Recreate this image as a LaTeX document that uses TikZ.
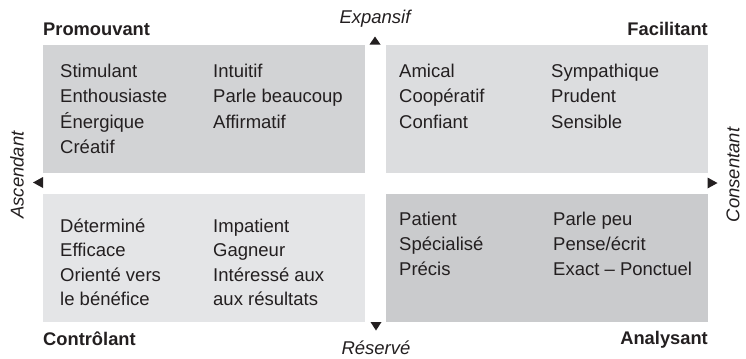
\documentclass[tikz,border=0pt]{standalone}
\usepackage{fontspec}
\setmainfont{Liberation Sans}
\definecolor{qTL}{HTML}{D2D3D5}
\definecolor{qTR}{HTML}{DCDDDF}
\definecolor{qBL}{HTML}{E4E5E7}
\definecolor{qBR}{HTML}{CACBCD}
\definecolor{ink}{HTML}{231F20}
\begin{document}
\begin{tikzpicture}[x=1bp,y=-1bp,
  quad/.style={draw=none,inner sep=0pt,outer sep=0pt,minimum width=322bp,minimum height=128bp},
  item/.style={anchor=base west,inner sep=0pt,text=ink,font=\fontsize{18.5bp}{22bp}\selectfont},
  head/.style={inner sep=0pt,text=ink,font=\fontsize{18.3bp}{22bp}\selectfont\bfseries},
  axis/.style={inner sep=0pt,text=ink,font=\fontsize{18.5bp}{22bp}\selectfont\itshape},
  tip/.style={fill=ink,draw=none}]
\useasboundingbox (0,0) rectangle (746,358);
% quadrants
\node[quad,fill=qTL,anchor=north west] (tl) at (43,45) {};
\node[quad,fill=qTR,anchor=north west] (tr) at (386,45) {};
\node[quad,fill=qBL,anchor=north west] (bl) at (43,194) {};
\node[quad,fill=qBR,anchor=north west] (br) at (386,194) {};
% headings
\node[head,anchor=base west] (hp) at (43,35) {Promouvant};
\node[head,anchor=base east] (hf) at (708,35) {Facilitant};
\node[head,anchor=base west] (hc) at (43,345) {Contrôlant};
\node[head,anchor=base east] (ha) at (708,344) {Analysant};
% axis labels
\node[axis,anchor=base] (ax1) at (375,23) {Expansif};
\node[axis,anchor=base] (ax2) at (376,354) {Réservé};
\node[axis,rotate=90] (ax3) at (17,175) {Ascendant};
\node[axis,rotate=90] (ax4) at (733,175) {Consentant};
% arrowheads
\fill[tip] (375,36.5) -- (369.5,44.5) -- (380.5,44.5) -- cycle;
\fill[tip] (376,330.5) -- (370.5,322) -- (381.5,322) -- cycle;
\fill[tip] (33,182.5) -- (43,177) -- (43,188) -- cycle;
\fill[tip] (717.5,183) -- (707.5,177.5) -- (707.5,188.5) -- cycle;
% top-left
\node[item] (a1) at (60,77) {Stimulant};
\node[item] (a2) at (60,102.5) {Enthousiaste};
\node[item] (a3) at (60,128) {Énergique};
\node[item] (a4) at (60,153.5) {Créatif};
\node[item] (a5) at (213,77) {Intuitif};
\node[item] (a6) at (213,102.5) {Parle beaucoup};
\node[item] (a7) at (213,128) {Affirmatif};
% top-right
\node[item] (b1) at (399,77) {Amical};
\node[item] (b2) at (399,102.5) {Coopératif};
\node[item] (b3) at (399,128) {Confiant};
\node[item] (b4) at (551,77) {Sympathique};
\node[item] (b5) at (551,102.5) {Prudent};
\node[item] (b6) at (551,128) {Sensible};
% bottom-left
\node[item] (c1) at (60,232) {Déterminé};
\node[item] (c2) at (60,256.5) {Efficace};
\node[item] (c3) at (60,281) {Orienté vers};
\node[item] (c4) at (60,305.5) {le bénéfice};
\node[item] (c5) at (213,232) {Impatient};
\node[item] (c6) at (213,256.5) {Gagneur};
\node[item] (c7) at (213,281) {Intéressé aux};
\node[item] (c8) at (213,305.5) {aux résultats};
% bottom-right
\node[item] (d1) at (399,225) {Patient};
\node[item] (d2) at (399,250) {Spécialisé};
\node[item] (d3) at (399,275) {Précis};
\node[item] (d4) at (553,225) {Parle peu};
\node[item] (d5) at (553,250) {Pense/écrit};
\node[item] (d6) at (553,275) {Exact -- Ponctuel};
\end{tikzpicture}
\end{document}
